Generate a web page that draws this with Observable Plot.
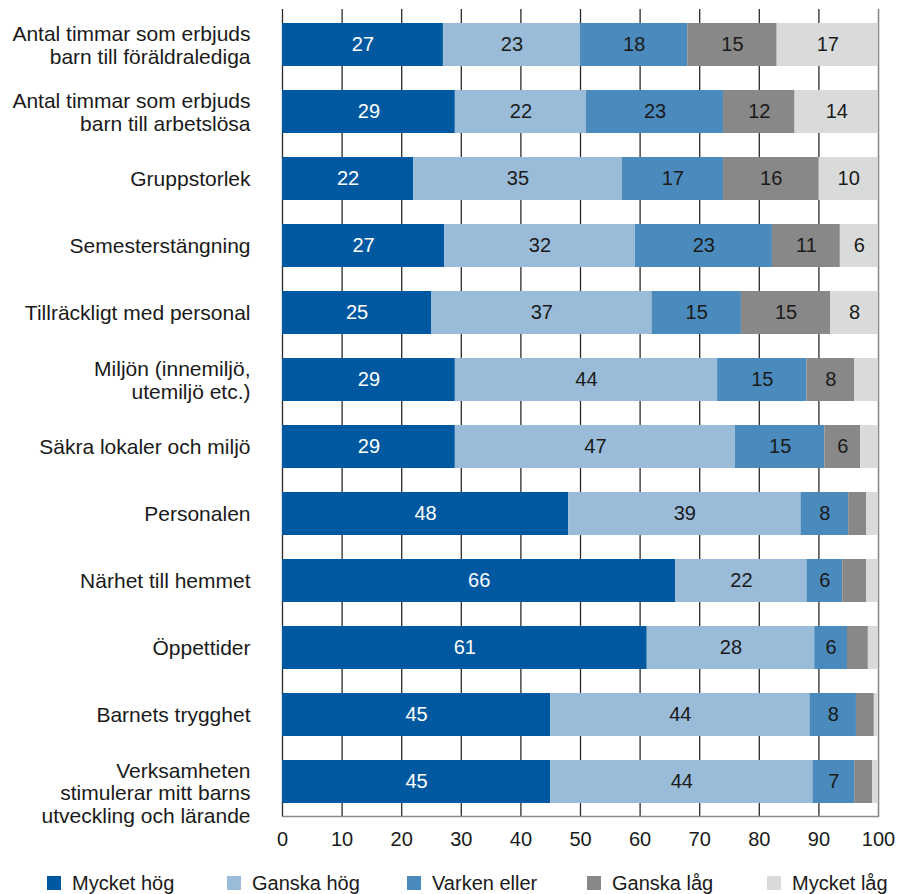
<!DOCTYPE html>
<html>
<head>
<meta charset="utf-8">
<script src="https://cdn.jsdelivr.net/npm/d3@7"></script>
<script src="https://cdn.jsdelivr.net/npm/@observablehq/plot@0.6"></script>
<style>
  body { margin: 0; background: #fff; font-family: "Liberation Sans", Arial, sans-serif; }
  #wrap { position: relative; width: 898px; height: 894px; overflow: hidden; }
  #legend { position: absolute; left: 47px; top: 871px; display: flex; align-items: center; height: 24px; }
  .item { width: 180px; display: flex; align-items: center; font-size: 20px; color: #1a1a1a; white-space: nowrap; line-height: 24px; }
  .sw { width: 14px; height: 14px; margin-right: 11px; flex: none; }
</style>
</head>
<body>
<div id="wrap"><div id="chart"></div><div id="legend"></div></div>
<script>
const categories = [
  "Antal timmar som erbjuds\nbarn till föräldralediga",
  "Antal timmar som erbjuds\nbarn till arbetslösa",
  "Gruppstorlek",
  "Semesterstängning",
  "Tillräckligt med personal",
  "Miljön (innemiljö,\nutemiljö etc.)",
  "Säkra lokaler och miljö",
  "Personalen",
  "Närhet till hemmet",
  "Öppettider",
  "Barnets trygghet",
  "Verksamheten\nstimulerar mitt barns\nutveckling och lärande"
];
const responses = ["Mycket hög", "Ganska hög", "Varken eller", "Ganska låg", "Mycket låg"];
const colors = ["#0059a0", "#9abcd9", "#4a8abd", "#888888", "#d9dada"];

const mycketHog = [27, 29, 22, 27.2, 25, 29, 29, 48, 66, 61.2, 45, 45];
const ganskaHog = [23, 22, 35, 32, 37, 44, 47, 39, 22, 28.1, 43.5, 44];
const varkenEller = [18, 23, 17, 23, 15, 15, 15, 8, 6, 5.5, 7.8, 7];
const ganskaLag = [15, 12, 16, 11.4, 15, 8, 6, 3, 4, 3.5, 3, 3];
const mycketLag = [17, 14, 10, 6.4, 8, 4, 3, 2, 2, 1.7, 0.7, 1];
const xTicks = [0, 10, 20, 30, 40, 50, 60, 70, 80, 90, 100];

const series = [mycketHog, ganskaHog, varkenEller, ganskaLag, mycketLag];
const data = [];
categories.forEach((c, i) => {
  responses.forEach((r, j) => data.push({category: c, response: r, value: series[j][i]}));
});

const label = d => d.value >= 5.5 ? String(Math.round(d.value)) : "";
const fontSize = 20;
const lines = d => d.split("\n").length;

const chart = Plot.plot({
  width: 898,
  height: 860,
  marginLeft: 282,
  marginRight: 20,
  marginTop: 9,
  marginBottom: 44,
  style: {fontFamily: "Liberation Sans, Arial, sans-serif", fontSize: "20px", color: "#1a1a1a", background: "white"},
  x: {domain: [0, 100], axis: null, label: null},
  y: {domain: categories, paddingInner: 0.36, paddingOuter: 0.17, axis: null},
  color: {domain: responses, range: colors},
  marks: [
    Plot.ruleX(xTicks.slice(0, -1), {x: d => d, stroke: "#2a2a2a", strokeWidth: 1.3}),
    Plot.ruleX(xTicks.slice(-1), {x: d => d, stroke: "#8a8a8a", strokeWidth: 1.6}),
    Plot.barX(data, Plot.stackX({x: "value", y: "category", fill: "response"})),
    Plot.text(data, Plot.stackX({x: "value", y: "category",
      text: d => d.response === "Mycket hög" ? label(d) : "", fill: "white", fontSize})),
    Plot.text(data, Plot.stackX({x: "value", y: "category",
      text: d => d.response !== "Mycket hög" ? label(d) : "", fill: "#1a1a1a", fontSize})),
    Plot.frame({anchor: "bottom", stroke: "#8a8a8a", strokeWidth: 1.6}),
    Plot.axisX({ticks: xTicks, tickSize: 0, tickPadding: 15, fontSize, label: null, tickFormat: d => String(d)}),
    Plot.text(categories.filter(d => lines(d) < 3), {
      y: d => d, text: d => d, frameAnchor: "left", textAnchor: "end", dx: -32,
      lineAnchor: "middle", lineHeight: 1.08, fontSize: 21, fill: "#1a1a1a"
    }),
    Plot.text(categories.filter(d => lines(d) >= 3), {
      y: d => d, text: d => d, frameAnchor: "left", textAnchor: "end", dx: -32, dy: 11,
      lineAnchor: "middle", lineHeight: 1.08, fontSize: 21, fill: "#1a1a1a"
    })
  ]
});
document.getElementById("chart").appendChild(chart);

const legend = document.getElementById("legend");
responses.forEach((r, j) => {
  const it = document.createElement("div");
  it.className = "item";
  const sw = document.createElement("span");
  sw.className = "sw";
  sw.style.background = colors[j];
  const t = document.createElement("span");
  t.textContent = r;
  it.appendChild(sw); it.appendChild(t);
  legend.appendChild(it);
});
</script>
</body>
</html>
